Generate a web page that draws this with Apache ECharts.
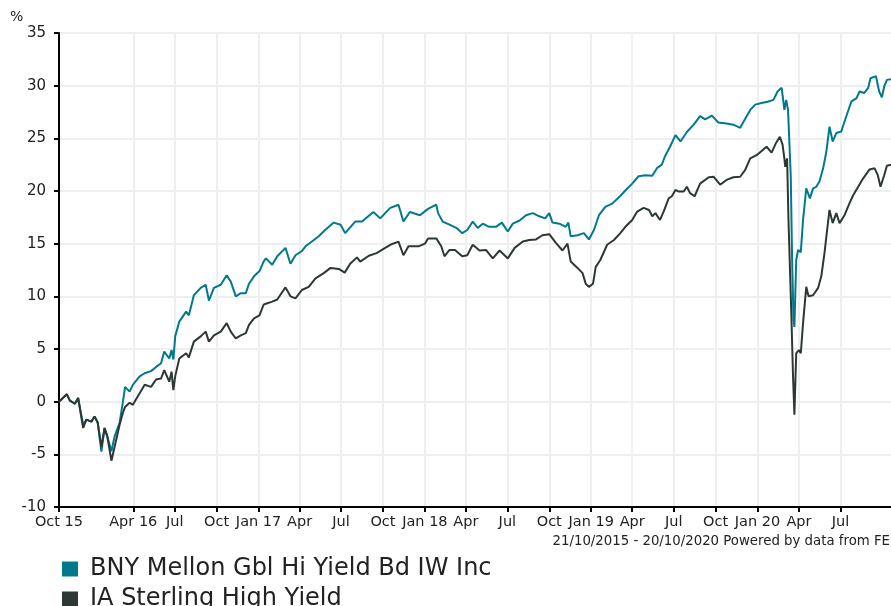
<!DOCTYPE html>
<html>
<head>
<meta charset="utf-8">
<script src="https://cdn.jsdelivr.net/npm/echarts@6/dist/echarts.min.js"></script>
<style>html,body{margin:0;padding:0;background:#fff}#c{width:891px;height:606px}</style>
</head>
<body>
<div id="c"></div>
<script>
var startDate = '2015-10-21';
var endDate = '2020-10-20';

var seriesNames = ['BNY Mellon Gbl Hi Yield Bd IW Inc', 'IA Sterling High Yield'];

var tickDates = ['2015-10-21','2016-04-01','2016-07-01','2016-10-01','2017-01-01','2017-04-01','2017-07-01','2017-10-01','2018-01-01','2018-04-01','2018-07-01','2018-10-01','2019-01-01','2019-04-01','2019-07-01','2019-10-01','2020-01-01','2020-04-01','2020-07-01'];
var tickLabels = ['Oct 15','Apr 16','Jul','Oct','Jan 17','Apr','Jul','Oct','Jan 18','Apr','Jul','Oct','Jan 19','Apr','Jul','Oct','Jan 20','Apr','Jul'];

var yTicks = [-10, -5, 0, 5, 10, 15, 20, 25, 30, 35];

var bnyDates = ['2015-10-21','2015-11-07','2015-11-14','2015-11-25','2015-12-02','2015-12-13','2015-12-20','2015-12-31','2016-01-07','2016-01-14','2016-01-22','2016-01-29','2016-02-04','2016-02-13','2016-02-20','2016-03-02','2016-03-09','2016-03-14','2016-03-24','2016-03-31','2016-04-15','2016-04-26','2016-05-10','2016-05-21','2016-06-01','2016-06-08','2016-06-19','2016-06-24','2016-06-28','2016-07-02','2016-07-11','2016-07-26','2016-08-01','2016-08-12','2016-08-27','2016-09-07','2016-09-14','2016-09-25','2016-10-10','2016-10-23','2016-11-01','2016-11-12','2016-11-23','2016-12-04','2016-12-11','2016-12-22','2017-01-03','2017-01-12','2017-01-17','2017-01-31','2017-02-11','2017-03-01','2017-03-12','2017-03-23','2017-04-06','2017-04-14','2017-04-28','2017-05-13','2017-05-27','2017-06-15','2017-06-30','2017-07-10','2017-08-01','2017-08-16','2017-09-10','2017-09-25','2017-10-17','2017-11-04','2017-11-15','2017-11-29','2017-12-21','2018-01-08','2018-01-26','2018-01-30','2018-02-09','2018-02-24','2018-03-11','2018-03-24','2018-04-04','2018-04-16','2018-04-27','2018-05-08','2018-05-22','2018-06-06','2018-06-19','2018-07-02','2018-07-13','2018-07-28','2018-08-11','2018-08-26','2018-09-09','2018-09-22','2018-10-01','2018-10-08','2018-10-23','2018-11-06','2018-11-12','2018-11-17','2018-12-02','2018-12-16','2018-12-27','2019-01-07','2019-01-18','2019-02-01','2019-02-16','2019-03-03','2019-03-17','2019-04-01','2019-04-15','2019-04-30','2019-05-15','2019-05-26','2019-06-05','2019-06-12','2019-06-23','2019-07-05','2019-07-16','2019-07-30','2019-08-14','2019-08-28','2019-09-08','2019-09-23','2019-10-07','2019-10-25','2019-11-09','2019-11-24','2019-12-01','2019-12-16','2019-12-27','2020-01-10','2020-01-25','2020-02-05','2020-02-14','2020-02-23','2020-02-29','2020-03-04','2020-03-08','2020-03-14','2020-03-17','2020-03-20','2020-03-22','2020-03-26','2020-03-30','2020-04-05','2020-04-10','2020-04-17','2020-04-25','2020-05-02','2020-05-09','2020-05-16','2020-05-24','2020-05-31','2020-06-07','2020-06-14','2020-06-22','2020-07-03','2020-07-10','2020-07-25','2020-08-05','2020-08-12','2020-08-22','2020-08-31','2020-09-05','2020-09-17','2020-09-24','2020-09-30','2020-10-05','2020-10-11','2020-10-20'];
var bnyValues = [0,0.7,0.1,-0.2,0.35,-2.2,-1.7,-1.9,-1.4,-2.0,-4.75,-2.5,-3.3,-4.7,-3.3,-2.0,-0.1,1.4,0.95,1.6,2.4,2.7,2.9,3.3,3.65,4.75,4.1,4.9,4.0,6.2,7.6,8.55,8.2,10.1,10.8,11.1,9.6,10.8,11.1,12.0,11.4,10.0,10.3,10.3,11.2,11.9,12.4,13.3,13.6,13.0,13.8,14.6,13.1,13.9,14.3,14.75,15.2,15.7,16.3,17.0,16.8,16.0,17.1,17.1,18.0,17.4,18.4,18.7,17.1,18.0,17.7,18.3,18.7,17.9,17.1,16.8,16.5,16.0,16.3,17.1,16.5,16.9,16.6,16.6,17.0,16.15,16.9,17.2,17.7,17.9,17.6,17.4,17.9,17.0,16.9,16.6,17.0,15.7,15.8,16.0,15.4,16.3,17.7,18.5,18.8,19.4,20.05,20.7,21.4,21.5,21.45,22.2,22.5,23.3,24.2,25.3,24.7,25.6,26.3,27.1,26.8,27.15,26.5,26.4,26.3,26.0,26.55,27.7,28.2,28.35,28.5,28.65,29.45,29.8,27.7,28.65,27.7,21.4,13.45,7.75,7.1,13.45,14.4,14.2,17.25,20.25,19.3,20.25,20.4,20.9,22.15,23.7,26.1,24.7,25.5,25.65,26.6,28.5,28.8,29.45,29.3,29.8,30.7,30.9,29.45,28.9,29.9,30.55,30.6];

var iaDates = ['2015-10-21','2015-11-07','2015-11-14','2015-11-25','2015-12-02','2015-12-13','2015-12-20','2015-12-31','2016-01-07','2016-01-14','2016-01-22','2016-01-29','2016-02-04','2016-02-13','2016-02-20','2016-03-02','2016-03-09','2016-03-14','2016-03-24','2016-03-31','2016-04-15','2016-04-26','2016-05-10','2016-05-21','2016-06-01','2016-06-08','2016-06-19','2016-06-24','2016-06-28','2016-07-02','2016-07-11','2016-07-26','2016-08-01','2016-08-12','2016-08-27','2016-09-07','2016-09-14','2016-09-25','2016-10-10','2016-10-23','2016-11-01','2016-11-12','2016-11-23','2016-12-04','2016-12-11','2016-12-22','2017-01-03','2017-01-12','2017-01-17','2017-01-31','2017-02-11','2017-02-14','2017-03-01','2017-03-12','2017-03-23','2017-04-06','2017-04-21','2017-05-06','2017-05-24','2017-06-08','2017-06-26','2017-07-09','2017-07-21','2017-08-05','2017-08-12','2017-08-31','2017-09-17','2017-10-06','2017-10-20','2017-11-04','2017-11-15','2017-11-26','2017-12-18','2018-01-01','2018-01-08','2018-01-26','2018-02-06','2018-02-13','2018-02-24','2018-03-08','2018-03-24','2018-04-04','2018-04-16','2018-05-01','2018-05-15','2018-05-30','2018-06-14','2018-07-02','2018-07-17','2018-08-04','2018-08-18','2018-09-02','2018-09-16','2018-10-01','2018-10-15','2018-10-30','2018-11-10','2018-11-17','2018-12-02','2018-12-13','2018-12-20','2018-12-27','2019-01-05','2019-01-11','2019-01-21','2019-02-05','2019-02-20','2019-03-06','2019-03-17','2019-04-01','2019-04-12','2019-04-26','2019-05-08','2019-05-15','2019-05-22','2019-06-01','2019-06-09','2019-06-20','2019-06-27','2019-07-05','2019-07-12','2019-07-23','2019-07-30','2019-08-06','2019-08-16','2019-08-28','2019-09-16','2019-09-27','2019-10-11','2019-10-25','2019-11-09','2019-11-24','2019-12-05','2019-12-16','2019-12-30','2020-01-14','2020-01-21','2020-02-01','2020-02-10','2020-02-19','2020-02-25','2020-02-29','2020-03-02','2020-03-06','2020-03-09','2020-03-15','2020-03-19','2020-03-22','2020-03-26','2020-04-01','2020-04-05','2020-04-10','2020-04-17','2020-04-22','2020-05-02','2020-05-13','2020-05-20','2020-05-27','2020-06-01','2020-06-07','2020-06-14','2020-06-22','2020-06-29','2020-07-10','2020-07-21','2020-07-29','2020-08-09','2020-08-20','2020-09-03','2020-09-14','2020-09-21','2020-09-27','2020-10-05','2020-10-11','2020-10-20'];
var iaValues = [0,0.7,0.1,-0.2,0.35,-2.5,-1.7,-1.9,-1.4,-2.0,-4.3,-2.5,-3.3,-5.6,-4.3,-2.2,-1.1,-0.5,-0.1,-0.3,0.8,1.6,1.4,2.1,2.2,3.0,1.9,2.85,1.1,2.4,4.1,4.6,4.2,5.7,6.2,6.65,5.7,6.3,6.65,7.45,6.65,6.0,6.3,6.5,7.3,7.9,8.2,9.2,9.3,9.5,9.7,9.8,10.85,10.0,9.8,10.6,10.9,11.7,12.2,12.7,12.6,12.25,13.1,13.7,13.3,13.85,14.1,14.6,14.95,15.2,13.9,14.75,14.75,15.0,15.5,15.5,14.75,13.8,14.4,14.4,13.8,13.9,14.9,14.35,14.4,13.6,14.35,13.6,14.6,15.2,15.35,15.4,15.8,15.9,15.1,14.35,15.0,13.3,12.7,12.2,11.2,10.9,11.2,12.8,13.45,14.9,15.35,16.0,16.6,17.25,18.05,18.4,18.2,17.6,17.9,17.25,18.05,19.3,19.5,20.1,19.95,19.95,20.4,19.8,19.5,20.7,21.3,21.35,20.6,21.05,21.3,21.35,22.0,23.1,23.4,23.95,24.2,23.65,24.5,25.15,24.4,23.1,22.3,23.1,17.25,8.7,2.4,-1.25,4.6,4.9,4.6,7.45,10.9,10.0,10.1,10.8,11.9,14.1,16.0,18.2,16.95,17.9,16.95,17.7,18.85,19.6,20.4,21.2,22.05,22.15,21.5,20.4,21.5,22.4,22.5];

var FONT = 'DejaVu Sans';
var TEAL = '#007a8b';
var DARK = '#2d3835';

function ymd(d) {
  var m = d.getUTCMonth() + 1, day = d.getUTCDate();
  return d.getUTCFullYear() + '-' + (m < 10 ? '0' : '') + m + '-' + (day < 10 ? '0' : '') + day;
}
var categories = [];
var idx = {};
(function () {
  var d = new Date(startDate + 'T00:00:00Z');
  var e = new Date(endDate + 'T00:00:00Z');
  while (d <= e) {
    var s = ymd(d);
    idx[s] = categories.length;
    categories.push(s);
    d = new Date(d.getTime() + 86400000);
  }
})();
var tickMap = {};
tickDates.forEach(function (t, i) { tickMap[t] = tickLabels[i]; });
function isTick(i, v) { return tickMap.hasOwnProperty(categories[i]); }
function pairs(ds, vs) { return ds.map(function (d, i) { return [idx[d], vs[i]]; }); }

var legendBase = {
  orient: 'vertical', left: 57,
  itemWidth: 16, itemHeight: 15, itemGap: 6, icon: 'rect',
  textStyle: { fontFamily: FONT, fontSize: 24, color: '#222', lineHeight: 24, padding: [0, 0, 0, 7] }
};

var chart = echarts.init(document.getElementById('c'), null, { renderer: 'canvas' });
chart.setOption({
  animation: false,
  backgroundColor: '#fff',
  grid: { left: 59, top: 33, width: 835, bottom: 99 },
  xAxis: {
    type: 'category',
    data: categories,
    boundaryGap: false,
    axisLine: { onZero: false, lineStyle: { color: '#000', width: 2 } },
    axisTick: { interval: isTick, length: 5, lineStyle: { color: '#000', width: 2 } },
    axisLabel: {
      interval: isTick, margin: 8, color: '#222', fontFamily: FONT, fontSize: 14.5,
      formatter: function (v) { return tickMap[v] || ''; }
    },
    splitLine: { show: true, interval: isTick, lineStyle: { color: '#efefef', width: 2 } }
  },
  yAxis: {
    type: 'value', min: -10, max: 35, interval: 5,
    axisLine: { show: true, lineStyle: { color: '#000', width: 2 } },
    axisTick: { show: true, length: 5, lineStyle: { color: '#000', width: 2 } },
    axisLabel: { margin: 13, color: '#222', fontFamily: FONT, fontSize: 15 },
    splitLine: { show: true, lineStyle: { color: '#efefef', width: 2 } }
  },
  legend: [
    Object.assign({}, legendBase, { top: 552, data: [seriesNames[0]] }),
    Object.assign({}, legendBase, { top: 582, data: [seriesNames[1]] })
  ],
  graphic: [
    { type: 'text', left: 10, top: 10, style: { text: '%', font: '14px "DejaVu Sans"', fill: '#222' } },
    { type: 'text', right: 1, top: 535, style: { text: '21/10/2015 - 20/10/2020 Powered by data from FE', font: '13.3px "DejaVu Sans"', fill: '#222' } }
  ],
  series: [
    { name: seriesNames[0], type: 'line', data: pairs(bnyDates, bnyValues), showSymbol: false, symbol: 'none',
      lineStyle: { color: TEAL, width: 2 }, itemStyle: { color: TEAL } },
    { name: seriesNames[1], type: 'line', data: pairs(iaDates, iaValues), showSymbol: false, symbol: 'none',
      lineStyle: { color: DARK, width: 2 }, itemStyle: { color: DARK } }
  ]
});
</script>
</body>
</html>
